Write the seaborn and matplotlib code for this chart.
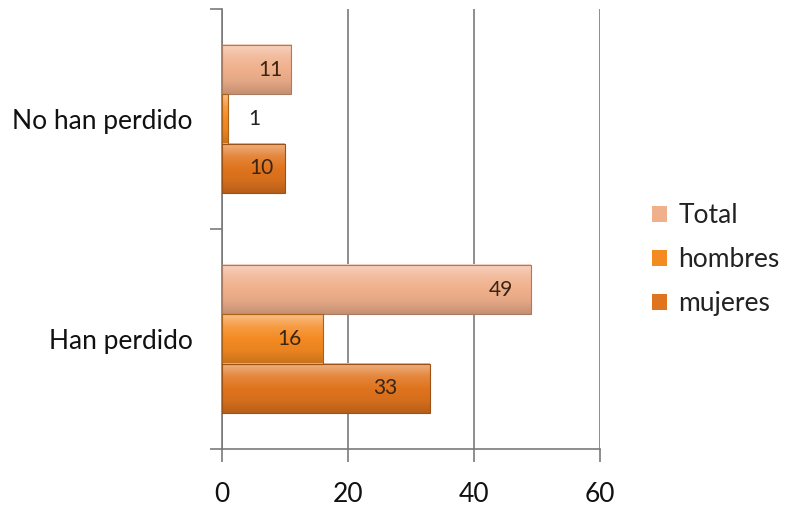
import matplotlib
matplotlib.use("Agg")
import matplotlib.pyplot as plt
import matplotlib.colors as mcolors
import seaborn as sns
import pandas as pd
import numpy as np

categories = ["No han perdido", "Han perdido"]
series = ["Total", "hombres", "mujeres"]
total = [11, 49]
hombres = [1, 16]
mujeres = [10, 33]
xticks = [0, 20, 40, 60]

colors = {"Total": "#F0B08C", "hombres": "#F48A22", "mujeres": "#E0741E"}
# label inset from bar end (pixels), styling only
label_inset = {("Total", 0): 21, ("Total", 1): 30, ("hombres", 1): 33,
               ("mujeres", 0): 24, ("mujeres", 1): 45}

rows = []
for s, vals in zip(series, [total, hombres, mujeres]):
    for c, v in zip(categories, vals):
        rows.append({"cat": c, "serie": s, "val": v})
df = pd.DataFrame(rows)

sns.set_style("white")
plt.rcParams["font.family"] = ["Lato", "DejaVu Sans"]

fig = plt.figure(figsize=(7.89, 5.13), dpi=100)
ax = fig.add_axes([222/789, 1-449/513, (600-222)/789, (449-9)/513])

sns.barplot(data=df, y="cat", x="val", hue="serie", order=categories,
            hue_order=series, palette=colors, orient="h", width=0.67,
            saturation=1, ax=ax, legend=True, edgecolor="none",
            linewidth=0, errorbar=None)

def shade(c, f):
    r = np.array(mcolors.to_rgb(c))
    if f > 0:
        return r + (1 - r) * f
    return r * (1 + f)

# gradient fill on each bar (light top -> base -> darker bottom)
for s, cont in zip(series, ax.containers):
    base = colors[s]
    grad = np.array([shade(base, 0.45), shade(base, 0.15), shade(base, 0.0),
                     shade(base, -0.05), shade(base, -0.18)])
    cmap = mcolors.LinearSegmentedColormap.from_list("g" + s, grad)
    for bar in cont:
        x0, y0 = bar.get_x(), bar.get_y()
        w, h = bar.get_width(), bar.get_height()
        img = np.linspace(0, 1, 64).reshape(-1, 1)
        ax.imshow(img, cmap=cmap, aspect="auto", extent=(x0, x0 + w, y0 + h, y0),
                  origin="upper", zorder=2.5, interpolation="bilinear")
        ax.add_patch(plt.Rectangle((x0, y0), w, h, fill=False,
                                   edgecolor=shade(base, -0.3), linewidth=0.8,
                                   zorder=2.6))

# value labels
for s, cont in zip(series, ax.containers):
    for i, bar in enumerate(cont):
        w = bar.get_width()
        yc = bar.get_y() + bar.get_height() / 2
        if w < 3:
            ax.annotate(f"{int(w)}", (w, yc), xytext=(26, 0), textcoords="offset pixels",
                        ha="center", va="center", fontsize=15, color="#222222", zorder=3)
        else:
            ax.annotate(f"{int(w)}", (w, yc), xytext=(-label_inset.get((s, i), 28), 0),
                        textcoords="offset pixels", ha="center", va="center",
                        fontsize=15, color="#3a2414", zorder=3)

ax.set_xlim(0, 60)
ax.set_ylim(1.5, -0.5)
ax.set_xticks(xticks)
ax.set_xticklabels([str(t) for t in xticks], fontsize=19, color="#111111")
ax.set_yticks([0, 1])
ax.set_yticklabels(categories, fontsize=19, color="#111111")
ax.set_yticks([-0.5, 0.5, 1.5], minor=True)
ax.tick_params(axis="y", which="major", left=False, length=0, pad=21)
ax.tick_params(axis="y", which="minor", left=True, length=9, width=1.2,
               color="#7a7a7a", direction="out")
ax.tick_params(axis="x", bottom=True, length=9, width=1.2, color="#7a7a7a",
               direction="out", pad=15)
ax.xaxis.grid(True, color="#7a7a7a", linewidth=1.2)
ax.set_axisbelow(True)
ax.set_xlabel("")
ax.set_ylabel("")
for s in ["top", "right"]:
    ax.spines[s].set_visible(False)
for s in ["left", "bottom"]:
    ax.spines[s].set_color("#7a7a7a")
    ax.spines[s].set_linewidth(1.2)
ax.set_xlim(0, 60)
ax.set_ylim(1.5, -0.5)

leg = ax.legend(loc="center left", bbox_to_anchor=(1.075, 0.43), frameon=False,
                fontsize=19, handlelength=0.55, handleheight=0.55,
                labelspacing=0.72, handletextpad=0.45)
for t in leg.get_texts():
    t.set_color("#222222")

fig.savefig("out.png", dpi=100)
